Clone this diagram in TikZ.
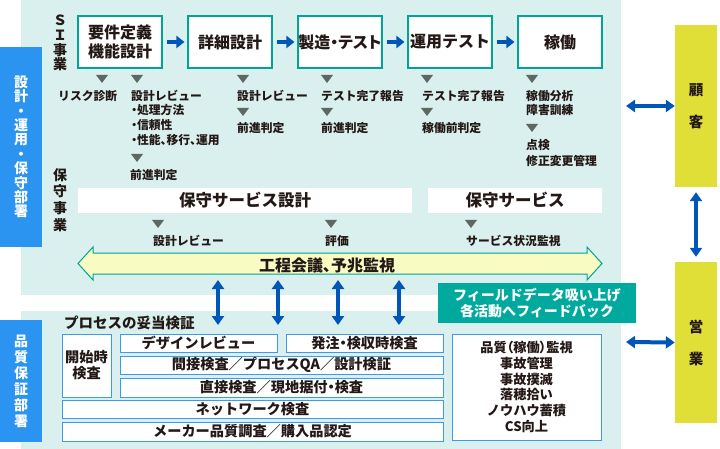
\documentclass[tikz,border=0pt]{standalone}
\usepackage{fontspec}
\setmainfont{Noto Sans CJK JP}
\newcommand{\pal}{\addfontfeature{RawFeature=+palt}}
\usetikzlibrary{arrows.meta}
\definecolor{panel}{HTML}{D9F0EE}
\definecolor{tealb}{HTML}{00A496}
\definecolor{tealfill}{HTML}{00A99D}
\definecolor{blueA}{HTML}{0055B8}
\definecolor{blueBar}{HTML}{2B93F0}
\definecolor{boxB}{HTML}{3A9BEA}
\definecolor{tricol}{HTML}{5D6862}
\definecolor{txt}{HTML}{231815}
\definecolor{yel}{HTML}{E0DF38}
\definecolor{arrowY}{HTML}{F8FCC2}
\tikzset{
  topbox/.style={draw=tealb, line width=1.1pt, fill=white, minimum width=84pt, minimum height=52pt, inner sep=0pt, align=center, font=\fontsize{16}{19.5}\selectfont\bfseries, text=txt},
  flow/.style={draw=blueA, line width=4pt, -{Triangle[width=12pt,length=8pt]}},
  dbl/.style={draw=blueA, line width=4pt, {Triangle[width=12pt,length=9pt]}-{Triangle[width=12pt,length=9pt]}},
  small/.style={font=\fontsize{11.8}{14.7}\selectfont\bfseries, text=txt, anchor=west, inner sep=0pt},
  whitebar/.style={fill=white, minimum height=25pt, inner sep=0pt, font=\fontsize{16.5}{18}\selectfont\bfseries, text=txt},
  qbox/.style={draw=boxB, line width=1pt, fill=white, inner sep=0pt, align=center, font=\fontsize{14.2}{16}\selectfont\bfseries, text=txt},
  bar/.style={fill=blueBar, minimum width=42pt, inner sep=0pt, align=center, text=white, font=\fontsize{14}{14.4}\selectfont\bfseries},
  ybox/.style={fill=yel, minimum width=42pt, inner sep=0pt, align=center, text=txt, font=\fontsize{14.5}{32}\selectfont\bfseries},
  vlabel/.style={align=center, inner sep=0pt, text=txt, font=\fontsize{14}{14.7}\selectfont\bfseries},
  downtri/.pic={\fill[tricol] (-6,-4) -- (6,-4) -- (0,4) -- cycle;}
}
\begin{document}
\begin{tikzpicture}[x=1pt,y=-1pt]
\useasboundingbox (0,0) rectangle (720,449);
% panels
\fill[panel] (21,0) rectangle (621,295);
\fill[panel] (21,311) rectangle (621,449);
% department bars
\node[bar, minimum height=200pt] (dept1) at (21,147) {設\\計\\・\\運\\用\\・\\保\\守\\部\\署};
\node[bar, minimum height=122pt, font=\fontsize{14}{16}\selectfont\bfseries] (dept2) at (21,381) {品\\質\\保\\証\\部\\署};
% business labels
\node[vlabel] (si) at (60,43) {Ｓ\\Ｉ\\事\\業};
\node[vlabel, font=\fontsize{14}{16.7}\selectfont\bfseries] (hs) at (60,200) {保\\守\\事\\業};
% top boxes
\node[topbox] (b1) at (120,42) {要件定義\\機能設計};
\node[topbox] (b2) at (230,42) {詳細設計};
\node[topbox] (b3) at (340,42) {\pal 製造・テスト};
\node[topbox] (b4) at (450,42) {運用テスト};
\node[topbox] (b5) at (560,42) {稼働};
\draw[flow, shorten <=4pt, shorten >=3pt] (b1) -- (b2);
\draw[flow, shorten <=4pt, shorten >=3pt] (b2) -- (b3);
\draw[flow, shorten <=4pt, shorten >=3pt] (b3) -- (b4);
\draw[flow, shorten <=4pt, shorten >=3pt] (b4) -- (b5);
% triangles
\foreach \tx in {102,137,243,327,427,532} \pic at (\tx,79) {downtri};
\foreach \tx in {243,327,427} \pic at (\tx,112) {downtri};
\pic at (137,158) {downtri};
\pic at (532,128) {downtri};
% column texts
\node[small] (t1) at (58,96) {リスク診断};
\node[small] (t2a) at (131,96) {設計レビュー};
\node[small] (t2b) at (131,110) {\pal ・処理方法};
\node[small] (t2c) at (131,125) {\pal ・信頼性};
\node[small] (t2d) at (131,140) {\pal ・性能、移行、運用};
\node[small] (t2e) at (130,175) {前進判定};
\node[small] (t3a) at (237,96) {設計レビュー};
\node[small] (t3b) at (237,128) {前進判定};
\node[small] (t4a) at (321,96) {テスト完了報告};
\node[small] (t4b) at (321,128) {前進判定};
\node[small] (t5a) at (422,96) {テスト完了報告};
\node[small] (t5b) at (422,128) {稼働前判定};
\node[small] (t6a) at (526,96) {稼働分析};
\node[small] (t6b) at (526,110) {障害訓練};
\node[small] (t6c) at (526,145) {点検};
\node[small] (t6d) at (526,161) {修正変更管理};
% maintenance bars
\node[whitebar, minimum width=334pt] (m1) at (245,200.5) {保守サービス設計};
\node[whitebar, minimum width=174pt] (m2) at (515,200.5) {保守サービス};
\foreach \tx in {158,331,471} \pic at (\tx,224) {downtri};
\node[small] (u1) at (153,241) {設計レビュー};
\node[small] (u2) at (325,241) {評価};
\node[small] (u3) at (466,241) {サービス状況監視};
% big double arrow
\draw[fill=arrowY, draw=tealb, line width=1pt] (78,263.5) -- (93,247) -- (93,253) -- (587,253) -- (587,247) -- (602,263.5) -- (587,280) -- (587,274) -- (93,274) -- (93,280) -- cycle;
\node[inner sep=0pt, text=txt, font=\fontsize{16}{18}\selectfont\bfseries\pal] (meet) at (327,265) {工程会議、予兆監視};
% vertical arrows
\foreach \vx [count=\i] in {218,278,338,399} {
  \coordinate (va\i) at (\vx,280);
  \coordinate (vb\i) at (\vx,325);
  \draw[dbl] (va\i) -- (vb\i);
}
% field data box
\node[fill=tealfill, minimum width=198pt, minimum height=40pt, inner sep=0pt, align=center, text=white, font=\fontsize{14}{15.5}\selectfont\bfseries] (fd) at (537,303) {フィールドデータ吸い上げ\\各活動へフィードバック};
% bottom section
\node[anchor=west, inner sep=0pt, text=txt, font=\fontsize{14.5}{16}\selectfont\bfseries] (pv) at (64,323) {プロセスの妥当検証};
\node[qbox, minimum width=49pt, minimum height=63pt] (q0) at (86.5,365.5) {開始時\\検査};
\node[qbox, minimum width=157pt, minimum height=18pt] (q1) at (198.5,343) {デザインレビュー};
\node[qbox, minimum width=157pt, minimum height=18pt] (q2) at (364.5,343) {\pal 発注・検収時検査};
\node[qbox, minimum width=323pt, minimum height=18pt] (q3) at (281.5,365) {間接検査／プロセスQA／設計検証};
\node[qbox, minimum width=323pt, minimum height=19pt] (q4) at (281.5,387.5) {直接検査／現地据付{\pal ・}検査};
\node[qbox, minimum width=381pt, minimum height=18pt] (q5) at (252.5,409) {ネットワーク検査};
\node[qbox, minimum width=381pt, minimum height=19pt] (q6) at (252.5,431.5) {メーカー品質調査／購入品認定};
\node[qbox, minimum width=149pt, minimum height=106pt, font=\fontsize{13.2}{15.7}\selectfont\bfseries] (q7) at (526.5,387) {品質{\pal （}稼働{\pal ）}監視\\事故管理\\事故撲滅\\落穂拾い\\ノウハウ蓄積\\CS向上};
% customer and sales
\node[ybox, minimum height=162pt] (cust) at (696,106) {顧\\客};
\node[ybox, minimum height=161pt] (sales) at (696,342.5) {営\\業};
\coordinate (pc1) at (626,106);
\coordinate (pc2) at (626,342);
\draw[dbl] (pc1) -- (cust.west);
\draw[dbl] (pc2) -- (sales.west);
\draw[dbl, shorten <=5pt, shorten >=5pt] (cust) -- (sales);
\end{tikzpicture}
\end{document}
